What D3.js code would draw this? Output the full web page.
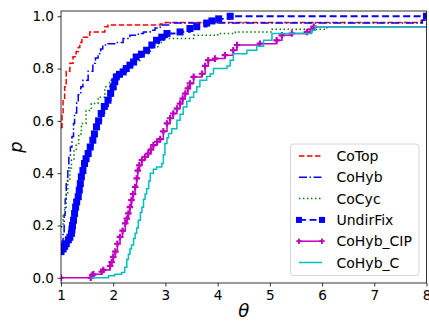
<!DOCTYPE html>
<html>
<head>
<meta charset="utf-8">
<script src="https://cdn.jsdelivr.net/npm/d3@7"></script>
<style>
  body { margin: 0; background: #fff; }
  svg text { font-family: "DejaVu Sans", sans-serif; fill: #000; }
</style>
</head>
<body>
<svg id="chart" width="429" height="321"></svg>
<script>
// performance profile data, [theta, p]
const coTop = [[1,0.575],[1.02,0.62],[1.04,0.68],[1.07,0.73],[1.10,0.79],[1.17,0.82],[1.23,0.845],[1.29,0.865],[1.33,0.88],[1.36,0.90],[1.40,0.92],[1.55,0.94],[1.84,0.96],[1.90,0.966],[2.9,0.97],[3.0,0.976],[7.9,0.985],[8,0.985]];
const coHyb = [[1,0.13],[1.02,0.14],[1.04,0.17],[1.06,0.24],[1.08,0.30],[1.10,0.37],[1.13,0.42],[1.15,0.46],[1.18,0.50],[1.21,0.54],[1.24,0.59],[1.26,0.63],[1.30,0.67],[1.33,0.70],[1.38,0.73],[1.42,0.755],[1.52,0.79],[1.61,0.82],[1.66,0.84],[1.71,0.857],[1.76,0.875],[1.80,0.89],[1.90,0.895],[2.06,0.90],[2.19,0.915],[2.32,0.927],[2.48,0.934],[2.58,0.94],[2.71,0.946],[2.80,0.955],[2.90,0.966],[3.09,0.974],[7.92,0.985],[8,0.985]];
const coCyc = [[1,0.195],[1.04,0.24],[1.07,0.27],[1.10,0.32],[1.13,0.373],[1.17,0.42],[1.20,0.45],[1.25,0.49],[1.29,0.513],[1.34,0.55],[1.39,0.59],[1.48,0.64],[1.58,0.666],[1.71,0.69],[1.84,0.73],[1.93,0.755],[2.06,0.787],[2.19,0.81],[2.35,0.83],[2.51,0.857],[2.71,0.883],[2.87,0.90],[2.96,0.915],[3.54,0.927],[4.0,0.934],[4.34,0.94],[5.04,0.95],[6.09,0.96],[8,0.96]];
const undirFix = [[1,0.10],[1.04,0.11],[1.07,0.12],[1.10,0.13],[1.14,0.145],[1.17,0.155],[1.20,0.17],[1.21,0.185],[1.22,0.20],[1.24,0.22],[1.26,0.246],[1.28,0.27],[1.30,0.29],[1.33,0.31],[1.35,0.335],[1.37,0.36],[1.39,0.386],[1.42,0.41],[1.45,0.437],[1.48,0.455],[1.52,0.475],[1.56,0.50],[1.61,0.526],[1.64,0.55],[1.68,0.577],[1.72,0.60],[1.77,0.628],[1.83,0.655],[1.90,0.679],[1.95,0.705],[2.0,0.73],[2.03,0.75],[2.06,0.768],[2.12,0.778],[2.19,0.787],[2.25,0.80],[2.32,0.813],[2.39,0.825],[2.44,0.844],[2.54,0.855],[2.64,0.87],[2.74,0.89],[2.83,0.908],[2.93,0.92],[3.03,0.934],[3.28,0.94],[3.47,0.953],[3.6,0.96],[3.79,0.974],[3.89,0.982],[4.02,0.99],[4.24,1.0],[8,1.0]];
const coHybCIP = [[1,0],[1.57,0],[1.60,0.01],[1.62,0.013],[1.78,0.023],[1.81,0.03],[1.94,0.045],[1.97,0.06],[2.0,0.08],[2.04,0.10],[2.08,0.13],[2.13,0.156],[2.18,0.18],[2.23,0.208],[2.26,0.226],[2.29,0.246],[2.32,0.27],[2.35,0.297],[2.38,0.32],[2.42,0.347],[2.45,0.38],[2.47,0.41],[2.50,0.43],[2.55,0.45],[2.61,0.462],[2.67,0.475],[2.72,0.49],[2.77,0.507],[2.84,0.52],[2.90,0.53],[2.96,0.56],[3.03,0.59],[3.09,0.61],[3.15,0.628],[3.22,0.647],[3.28,0.666],[3.33,0.685],[3.38,0.704],[3.43,0.724],[3.47,0.743],[3.54,0.768],[3.70,0.78],[3.76,0.81],[3.82,0.832],[3.95,0.838],[4.14,0.851],[4.30,0.87],[4.37,0.89],[4.81,0.895],[5.13,0.908],[5.23,0.927],[5.42,0.934],[5.71,0.94],[5.80,0.95],[5.84,0.96],[8,0.96]];
const coHybC = [[1.57,0],[1.88,0],[1.91,0.008],[2.03,0.013],[2.16,0.02],[2.22,0.04],[2.26,0.07],[2.29,0.09],[2.32,0.11],[2.35,0.125],[2.39,0.15],[2.42,0.17],[2.45,0.19],[2.48,0.22],[2.52,0.25],[2.55,0.27],[2.58,0.30],[2.61,0.32],[2.64,0.34],[2.68,0.37],[2.71,0.40],[2.77,0.415],[2.83,0.424],[2.93,0.437],[2.96,0.47],[2.99,0.513],[3.03,0.535],[3.06,0.552],[3.12,0.57],[3.22,0.602],[3.28,0.625],[3.34,0.653],[3.41,0.675],[3.47,0.69],[3.54,0.71],[3.60,0.73],[3.66,0.755],[3.79,0.77],[3.86,0.78],[3.92,0.80],[4.18,0.81],[4.24,0.832],[4.30,0.857],[4.56,0.87],[4.75,0.885],[4.88,0.908],[5.04,0.934],[5.80,0.946],[5.87,0.96],[8,0.96]];

const seriesNames = ['CoTop', 'CoHyb', 'CoCyc', 'UndirFix', 'CoHyb_CIP', 'CoHyb_C'];
const xTicks = [1, 2, 3, 4, 5, 6, 7, 8];
const yTicks = [0, 0.2, 0.4, 0.6, 0.8, 1.0];

const styles = [
  {data: coTop, color: '#ff0000', dash: '5.5,2.5', width: 1.5},
  {data: coHyb, color: '#0000ff', dash: '8,2.5,1.5,2.5', width: 1.5},
  {data: coCyc, color: '#008000', dash: '1.5,2.5', width: 1.5},
  {data: undirFix, color: '#0000ff', dash: '7,3.5', width: 1.8, marker: 'square'},
  {data: coHybCIP, color: '#bf00bf', dash: null, width: 1.5, marker: 'cross'},
  {data: coHybC, color: '#00bfbf', dash: null, width: 1.5}
];

const mLeft = 61, mRight = 426.5, mTop = 11, mBottom = 283;
const svg = d3.select('#chart');
const x = d3.scaleLinear().domain([1, 8]).range([mLeft, mRight]);
const y = d3.scaleLinear().domain([-0.02, 1.02]).range([mBottom, mTop]);

svg.append('defs').append('clipPath').attr('id', 'plotclip')
  .append('rect').attr('x', mLeft).attr('y', mTop).attr('width', mRight - mLeft).attr('height', mBottom - mTop);

const line = d3.line().curve(d3.curveStepAfter).x(d => x(d[0])).y(d => y(d[1]));
const plot = svg.append('g').attr('clip-path', 'url(#plotclip)');

function drawMarker(g, kind, color, cx, cy, big) {
  if (kind === 'square') {
    const h = big ? 3.5 : 3;
    g.append('rect').attr('x', cx - h).attr('y', cy - h).attr('width', 2 * h).attr('height', 2 * h).attr('fill', color);
  } else if (kind === 'cross') {
    g.append('path').attr('d', d3.symbol().type(d3.symbolCross).size(big ? 24 : 16)()).attr('transform', 'translate(' + cx + ',' + cy + ')').attr('fill', color);
  }
}

styles.forEach(s => {
  const g = plot.append('g');
  g.append('path').attr('d', line(s.data)).attr('fill', 'none').attr('stroke', s.color)
    .attr('stroke-width', s.width).attr('stroke-dasharray', s.dash);
  if (s.marker) {
    const pts = s.marker === 'cross' ? s.data.slice(0, -1) : s.data;
    pts.forEach(d => drawMarker(g, s.marker, s.color, x(d[0]), y(d[1]), true));
  }
});

// axes
const xAxis = d3.axisBottom(x).tickValues(xTicks).tickFormat(d3.format('d')).tickSize(3.5).tickPadding(3.5);
const yAxis = d3.axisLeft(y).tickValues(yTicks).tickFormat(d3.format('.1f')).tickSize(3.5).tickPadding(3.5);
const gx = svg.append('g').attr('transform', 'translate(0,' + mBottom + ')').call(xAxis);
const gy = svg.append('g').attr('transform', 'translate(' + mLeft + ',0)').call(yAxis);
[gx, gy].forEach(g => {
  g.select('.domain').remove();
  g.selectAll('line').attr('stroke', '#000').attr('stroke-width', 0.8);
  g.selectAll('text').style('font-size', '13.6px').attr('fill', '#000');
});
svg.append('rect').attr('x', mLeft).attr('y', mTop).attr('width', mRight - mLeft).attr('height', mBottom - mTop)
  .attr('fill', 'none').attr('stroke', '#000').attr('stroke-width', 0.8);

svg.append('text').attr('x', (mLeft + mRight) / 2).attr('y', 317).attr('text-anchor', 'middle')
  .style('font-size', '18px').style('font-style', 'italic').text('θ');
svg.append('text').attr('transform', 'translate(22,' + ((mTop + mBottom) / 2) + ') rotate(-90)').attr('text-anchor', 'middle')
  .style('font-size', '18px').style('font-style', 'italic').text('p');

// legend
const leg = svg.append('g');
leg.append('rect').attr('x', 290.5).attr('y', 144).attr('width', 128.5).attr('height', 131.5).attr('rx', 3)
  .attr('fill', '#fff').attr('fill-opacity', 0.8).attr('stroke', '#cccccc').attr('stroke-width', 0.8);
seriesNames.forEach((name, i) => {
  const s = styles[i];
  const cy = 156 + i * 21.3;
  leg.append('line').attr('x1', 299).attr('x2', 322).attr('y1', cy).attr('y2', cy)
    .attr('stroke', s.color).attr('stroke-width', s.width).attr('stroke-dasharray', s.dash);
  if (s.marker) {
    drawMarker(leg, s.marker, s.color, 299, cy, false);
    drawMarker(leg, s.marker, s.color, 322, cy, false);
  }
  leg.append('text').attr('x', 336.5).attr('y', cy + 5).style('font-size', '14px').text(name);
});
</script>
</body>
</html>
